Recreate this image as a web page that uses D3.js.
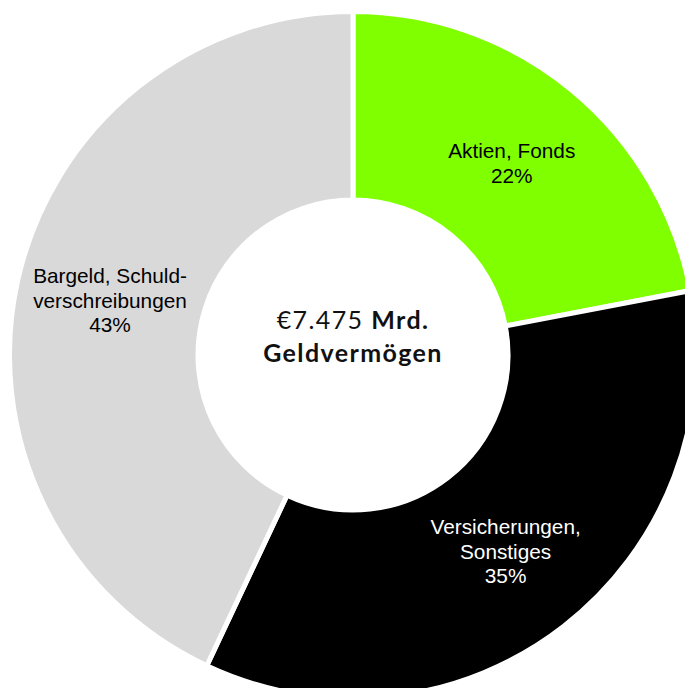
<!DOCTYPE html>
<html>
<head>
<meta charset="utf-8">
<script src="https://cdn.jsdelivr.net/npm/d3@7"></script>
<style>
  body { margin: 0; background: #fff; }
  svg { display: block; }
</style>
</head>
<body>
<div id="chart"></div>
<script>
// Geldvermögen donut
const labels = [['Aktien, Fonds'], ['Versicherungen,', 'Sonstiges'], ['Bargeld, Schuld-', 'verschreibungen']];
const shares = [22, 35, 43];
const colors = ['#80ff00', '#000000', '#d9d9d9'];
const textColors = ['#000', '#fff', '#000'];

const W = 685, H = 688;
const CX = 353, CY = 355;
const R_OUT = 343.5, R_IN = 155;

const svg = d3.select('#chart').append('svg')
  .attr('width', W)
  .attr('height', H);

const g = svg.append('g').attr('transform', `translate(${CX},${CY})`);

const pie = d3.pie().sort(null).value(d => d);
const arcs = pie(shares);
const arc = d3.arc().innerRadius(R_IN).outerRadius(R_OUT);
const labelArc = d3.arc().innerRadius(157).outerRadius(341);

g.selectAll('path.slice')
  .data(arcs)
  .join('path')
  .attr('class', 'slice')
  .attr('d', arc)
  .attr('fill', (d, i) => colors[i])
  .attr('stroke', '#fff')
  .attr('stroke-width', 5)
  .attr('stroke-linejoin', 'miter');

g.selectAll('text.lab')
  .data(arcs)
  .join('text')
  .attr('class', 'lab')
  .attr('text-anchor', 'middle')
  .style('font-family', '"Liberation Sans", Arial, sans-serif')
  .style('font-size', '20.8px')
  .attr('fill', (d, i) => textColors[i])
  .each(function (d, i) {
    const [x, y] = labelArc.centroid(d);
    const lines = labels[i].concat([`${shares[i]}%`]);
    const lh = 24.7;
    const y0 = y - (lines.length - 1) * lh / 2 + 7;
    const t = d3.select(this);
    lines.forEach((l, k) => {
      t.append('tspan').attr('x', x).attr('y', y0 + k * lh).text(l);
    });
  });

// Center text
const ct = g.append('text')
  .attr('text-anchor', 'middle')
  .style('font-family', 'Lato, "Open Sans", sans-serif')
  .style('font-size', '25px')
  .style('letter-spacing', '1.4px')
  .attr('fill', '#111');
const l1 = ct.append('tspan').attr('x', 0).attr('y', -26);
l1.append('tspan').style('font-weight', 400).text('€7.475 ');
l1.append('tspan').style('font-weight', 700).text('Mrd.');
ct.append('tspan').attr('x', 0).attr('y', 7).style('font-weight', 700).text('Geldvermögen');
</script>
</body>
</html>
